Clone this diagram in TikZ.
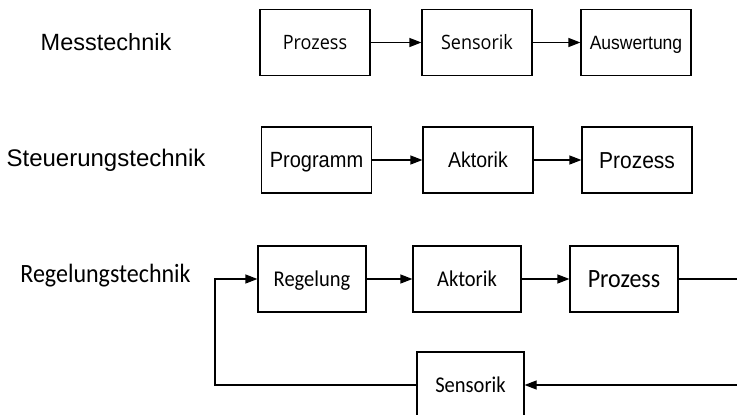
\documentclass[tikz,border=0pt]{standalone}
\usepackage{fontspec}
\usepackage{graphicx}
\setmainfont{Liberation Sans}
\newfontfamily\opensans{Open Sans}
\newfontfamily\carlito{Carlito}
\usetikzlibrary{arrows.meta}
\newcommand{\hoch}[1]{\scalebox{1}[1.1]{#1}}
\tikzset{
  block/.style={draw, line width=1.2pt, minimum width=110pt, minimum height=66pt, inner sep=0pt, text depth=0pt},
  pfeil/.style={-{Triangle[length=12pt,width=9pt]}, line width=1.2pt},
  linie/.style={line width=1.2pt},
  titel/.style={font=\fontsize{23.5}{26}\selectfont},
  mtext/.style={font=\opensans\fontsize{18}{20}\selectfont, text height=14pt},
  stext/.style={font=\fontsize{20}{22}\selectfont, text height=15.7pt},
  rtext/.style={font=\carlito\fontsize{20.5}{23}\selectfont, text height=14.8pt},
}
\begin{document}
\begin{tikzpicture}[x=1pt, y=-1pt, line join=miter]
	\clip (0,0) rectangle (737,415);
	\def\ya{42.5} \def\yb{160} \def\yc{279} \def\yd{385} % Zeilen
	% Titel
	\node[titel] (mess) at (106,\ya) {Messtechnik};
	\node[titel, font=\fontsize{24}{26}\selectfont] (steuer) at (106,\yb) {Steuerungstechnik};
	\node[titel, font=\carlito\fontsize{24}{26}\selectfont] (regel) at (105.5,\yc-3) {\hoch{Regelungstechnik}};
	% Messtechnik
	\node[block, mtext] (mproz) at (315,\ya) {\hoch{Prozess}};
	\node[block, mtext] (msens) at (477,\ya) {\hoch{Sensorik}};
	\node[block, stext, font=\fontsize{17.5}{20}\selectfont, text height=13.8pt] (mausw) at (636,\ya) {\hoch{Auswertung}};
	\draw[pfeil] (mproz) -- (msens);
	\draw[pfeil] (msens) -- (mausw);
	% Steuerungstechnik
	\node[block, stext] (sprog) at (316.5,\yb) {\hoch{Programm}};
	\node[block, stext, font=\fontsize{19.5}{22}\selectfont] (sakt) at (478,\yb) {\hoch{Aktorik}};
	\node[block, stext, font=\fontsize{21}{24}\selectfont, text height=16.5pt] (sproz) at (637,\yb) {\hoch{Prozess}};
	\draw[pfeil] (sprog) -- (sakt);
	\draw[pfeil] (sakt) -- (sproz);
	% Regelungstechnik
	\node[block, rtext, minimum width=108pt] (rreg) at (312,\yc) {\hoch{Regelung}};
	\node[block, rtext, minimum width=108pt] (rakt) at (467,\yc) {\hoch{Aktorik}};
	\node[block, rtext, minimum width=108pt, font=\carlito\fontsize{24}{26}\selectfont, text height=17pt] (rproz) at (624,\yc) {\hoch{Prozess}};
	\node[block, rtext, minimum width=107pt] (rsens) at (470.5,\yd) {\hoch{Sensorik}};
	\coordinate (raus) at (740,\yc);
	\coordinate (rein) at (740,\yd);
	\coordinate (rlinks) at (215,\yd);
	\draw[pfeil] (rreg) -- (rakt);
	\draw[pfeil] (rakt) -- (rproz);
	\draw[linie] (rproz) -- (raus);
	\draw[pfeil] (rein) -- (rsens);
	\draw[pfeil] (rsens) -- (rlinks) |- (rreg);
\end{tikzpicture}
\end{document}
